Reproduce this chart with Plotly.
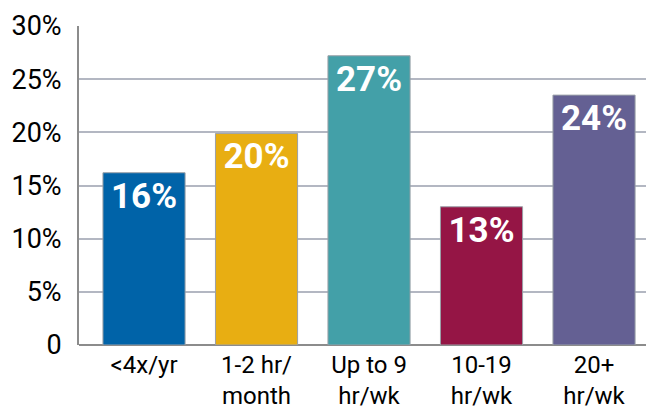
import plotly.graph_objects as go

categories = ["&lt;4x/yr", "1-2 hr/<br>month", "Up to 9<br>hr/wk", "10-19<br>hr/wk", "20+<br>hr/wk"]
values = [16.2, 19.9, 27.2, 13.0, 23.5]
labels = ["16%", "20%", "27%", "13%", "24%"]
colors = ["#0063A8", "#E8AE12", "#43A0A8", "#951545", "#646093"]
ytick_vals = [0, 5, 10, 15, 20, 25, 30]
ytick_text = ["0", "5%", "10%", "15%", "20%", "25%", "30%"]

FONT = "Roboto, sans-serif"

fig = go.Figure(go.Bar(
    x=list(range(len(categories))), y=values,
    marker=dict(color=colors, line=dict(color="#9aa0a8", width=1)),
    text=labels, textposition="inside", insidetextanchor="end",
    textfont=dict(family=FONT, size=35, color="white", weight="bold"),
    textangle=0, constraintext="none", width=0.73,
))

fig.add_shape(type="line", xref="paper", yref="y", x0=0, x1=1, y0=20, y1=20,
              line=dict(color="#8fa3d4", width=1.2), layer="below")

fig.update_layout(
    width=650, height=415,
    margin=dict(l=79, r=4, t=26, b=70),
    paper_bgcolor="white", plot_bgcolor="white",
    showlegend=False,
    font=dict(family=FONT, color="black"),
    xaxis=dict(
        tickvals=list(range(len(categories))), ticktext=categories,
        range=[-0.578, 4.462], showgrid=False, zeroline=False,
        showline=False, tickfont=dict(size=24), ticks="", ticklabelstandoff=3,
        automargin=False,
    ),
    yaxis=dict(
        range=[0, 30], tickvals=ytick_vals, ticktext=ytick_text,
        showgrid=True, gridcolor="#b3b7c2", gridwidth=1.5,
        zeroline=True, zerolinecolor="#8c8c8c", zerolinewidth=2,
        showline=True, linecolor="#8c8c8c", linewidth=2,
        tickfont=dict(size=27), ticks="", ticklabelstandoff=10,
        automargin=False,
    ),
)

fig.write_html("out.html")
